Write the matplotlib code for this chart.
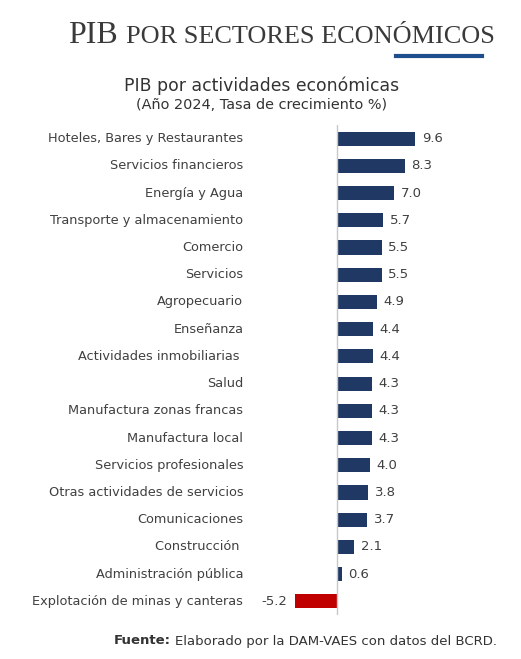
import matplotlib.pyplot as plt

sectores = ["Hoteles, Bares y Restaurantes", "Servicios financieros", "Energía y Agua",
            "Transporte y almacenamiento", "Comercio", "Servicios", "Agropecuario",
            "Enseñanza", "Actividades inmobiliarias ", "Salud", "Manufactura zonas francas",
            "Manufactura local", "Servicios profesionales", "Otras actividades de servicios",
            "Comunicaciones", "Construcción ", "Administración pública",
            "Explotación de minas y canteras"]
crecimiento = [9.6, 8.3, 7.0, 5.7, 5.5, 5.5, 4.9, 4.4, 4.4, 4.3, 4.3, 4.3, 4.0, 3.8, 3.7, 2.1, 0.6, -5.2]

W, H = 521, 659
fig = plt.figure(figsize=(W / 100, H / 100), dpi=100)
fig.patch.set_facecolor("white")

# axes placed in pixel terms: zero line at x=337, ~8.15 px per unit
x0, x1 = 250, 470
y_top, y_bot = 125, 615
ax = fig.add_axes([x0 / W, 1 - y_bot / H, (x1 - x0) / W, (y_bot - y_top) / H])
ppu = 8.15
ax.set_xlim((x0 - 337) / ppu, (x1 - 337) / ppu)
ax.set_ylim(len(sectores) - 0.5, -0.5)

azul = "#1f3864"
rojo = "#c00000"
gris = "#404040"
colores = [rojo if v < 0 else azul for v in crecimiento]
ypos = list(range(len(sectores)))
ax.barh(ypos, crecimiento, height=0.52, color=colores)
ax.axvline(0, color="#c8c8c8", lw=1)

for y, v, s in zip(ypos, crecimiento, sectores):
    if v >= 0:
        ax.text(v + 0.8, y, f"{v:.1f}", va="center", ha="left", fontsize=9.5, color=gris)
    else:
        ax.text(v - 0.9, y, f"{v:.1f}", va="center", ha="right", fontsize=9.5, color=gris)
    ax.text(-11.5, y, s, va="center", ha="right", fontsize=9.3, color=gris, clip_on=False)

ax.set_xticks([])
ax.set_yticks([])
for sp in ax.spines.values():
    sp.set_visible(False)

# title
fig.text(68 / W, 1 - 43 / H, "PIB", fontsize=23, family="Liberation Serif", color="#3a3a3a",
         ha="left", va="baseline")
fig.text(126 / W, 1 - 43 / H, "POR SECTORES ECONÓMICOS", fontsize=18.9, family="Liberation Serif",
         color="#3a3a3a", ha="left", va="baseline")
fig.add_artist(plt.Line2D([396 / W, 482 / W], [1 - 56 / H, 1 - 56 / H], color="#1f4e8c", lw=3))

fig.text(262 / W, 1 - 86 / H, "PIB por actividades económicas", fontsize=12.4, color="#333333",
         ha="center", va="center")
fig.text(262 / W, 1 - 105 / H, "(Año 2024, Tasa de crecimiento %)", fontsize=10.4, color="#333333",
         ha="center", va="center")

# footer: bold "Fuente:" placed right before the rest
pie = fig.text(497 / W, 1 - 641 / H, "Elaborado por la DAM-VAES con datos del BCRD.", fontsize=9.5,
               color="#333333", ha="right", va="center")
fig.canvas.draw()
bb = pie.get_window_extent()
fig.text((bb.x0 - 4) / W, 1 - 641 / H, "Fuente:", fontsize=9.5, color="#333333", ha="right",
         va="center", fontweight="bold")

fig.savefig("out.png", dpi=100)
